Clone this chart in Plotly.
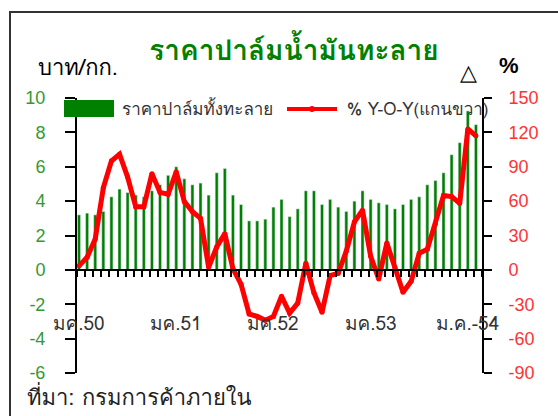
import plotly.graph_objects as go

# ราคาปาล์มทั้งทะลาย (บาท/กก.) ม.ค.50 - ก.พ.54
price = [3.2, 3.3, 3.2, 3.4, 4.25, 4.7, 4.5, 4.35, 4.25, 4.6,
         4.95, 5.5, 6.0, 5.3, 4.95, 5.05, 4.35, 5.65, 5.9, 4.35,
         3.8, 2.85, 2.85, 2.95, 3.65, 4.1, 3.1, 3.55, 4.6, 4.6,
         3.8, 4.1, 3.65, 3.4, 4.0, 4.6, 4.1, 3.9, 3.8, 3.55,
         3.8, 4.1, 4.25, 4.95, 5.2, 5.65, 6.7, 7.4, 9.25, 8.45]

# % Y-O-Y (แกนขวา)
yoy = [3.5, 11, 27, 71.6, 95, 101, 81, 55, 55, 84,
       67.6, 66, 85.6, 59.5, 50.8, 45, 2.3, 20, 31.6, 1,
       -12.5, -38.5, -40.6, -44, -40.6, -23, -37.7, -29, 5.8, -20,
       -37, -5, -3, 16.5, 42, 52, 12, -8, 23.5, 2,
       -19.5, -10, 14.5, 18, 40, 65, 64, 58, 123, 117]

months = list(range(len(price)))
year_ticks = [0, 12, 24, 36, 48]
year_labels = ["มค.50", "มค.51", "มค.52", "มค.53", "ม.ค.-54"]

left_ticks = [-6, -4, -2, 0, 2, 4, 6, 8, 10]
right_ticks = [-90, -60, -30, 0, 30, 60, 90, 120, 150]

THAI = "Tahoma, Loma, 'Noto Sans Thai', 'Liberation Sans', sans-serif"
GREEN = "#008000"
RED = "#ff0000"

# พื้นที่กราฟเป็นพิกเซล
L, R, T, B = 77, 482, 98, 373


def px(x):
    return (x - L) / (R - L)


def py(y):
    return (B - y) / (B - T)


fig = go.Figure()
fig.add_trace(go.Bar(x=months, y=price, marker_color=GREEN, width=0.38,
                     name="ราคาปาล์มทั้งทะลาย", yaxis="y"))
fig.add_trace(go.Scatter(x=months, y=yoy, mode="lines+markers", yaxis="y2",
                         line=dict(color=RED, width=5),
                         marker=dict(color=RED, size=5),
                         name="% Y-O-Y(แกนขวา)"))

fig.update_layout(
    width=558, height=416,
    margin=dict(l=L, r=558 - R, t=T, b=416 - B, autoexpand=False),
    paper_bgcolor="white", plot_bgcolor="white",
    showlegend=False,
    font=dict(family=THAI, color="#333333"),
    title=dict(text="<b>ราคาปาล์มน้ำมันทะลาย</b>", x=294 / 558, xanchor="center",
               y=1 - 50 / 416, yanchor="middle",
               font=dict(size=28, color=GREEN, family=THAI)),
    xaxis=dict(range=[-0.25, 49.75], anchor="free", position=6 / 16,
               showline=True, linecolor="black", linewidth=2,
               ticks="outside", ticklen=6, tickwidth=2, tickcolor="black",
               tickmode="linear", tick0=-0.25, dtick=1, automargin=False,
               showticklabels=False, showgrid=False, zeroline=False),
    yaxis=dict(range=[-6, 10], tickvals=left_ticks,
               ticktext=[str(v) for v in left_ticks],
               showline=True, linecolor="black", linewidth=2,
               ticks="outside", ticklen=10, tickwidth=2, tickcolor="black",
               ticklabelstandoff=16, automargin=False,
               tickfont=dict(size=18, color="#339933", family="Liberation Sans"),
               showgrid=False, zeroline=False),
    yaxis2=dict(range=[-90, 150], tickvals=right_ticks,
                ticktext=[str(v) for v in right_ticks],
                overlaying="y", side="right",
                showline=True, linecolor="black", linewidth=2,
                ticks="outside", ticklen=8, tickwidth=2, tickcolor="black",
                ticklabelstandoff=13, automargin=False,
                tickfont=dict(size=18, color="#ff3333", family="Liberation Sans"),
                showgrid=False, zeroline=False),
    yaxis3=dict(range=[-90, 150], tickvals=right_ticks, overlaying="y", side="right",
                ticks="inside", ticklen=9, tickwidth=2, tickcolor="black",
                automargin=False,
                showticklabels=False, showline=False, showgrid=False, zeroline=False),
)

# ป้ายแกน x (เดือนมกราคมของแต่ละปี)
for m, lab in zip(year_ticks, year_labels):
    fig.add_annotation(x=m, y=-3.1, xref="x", yref="y", text=lab, showarrow=False,
                       xanchor="center", yanchor="middle",
                       font=dict(size=19, color="#333333", family=THAI))


def note(x, y, text, size, color="black", anchor="left", family=THAI):
    fig.add_annotation(x=px(x), y=py(y), xref="paper", yref="paper", text=text,
                       xanchor=anchor, yanchor="middle", showarrow=False,
                       font=dict(size=size, color=color, family=family))


# คำอธิบายกราฟแบบกำหนดเอง
fig.add_shape(type="rect", xref="paper", yref="paper",
              x0=px(64), x1=px(114), y0=py(117), y1=py(100),
              fillcolor=GREEN, line_width=0)
note(120, 108, "ราคาปาล์มทั้งทะลาย", 17, "#333333")
fig.add_shape(type="line", xref="paper", yref="paper",
              x0=px(287), x1=px(337), y0=py(109), y1=py(109),
              line=dict(color=RED, width=4))
fig.add_shape(type="circle", xref="paper", yref="paper",
              x0=px(309), x1=px(315), y0=py(112), y1=py(106),
              fillcolor=RED, line_width=0)
note(345, 108, "% Y-O-Y(แกนขวา)", 17, "#333333")

# หน่วยของแกนและที่มา
note(36, 68, "บาท/กก.", 22)
note(468, 72, "△", 22, anchor="center")
note(509, 66, "<b>%</b>", 22, anchor="center", family="Liberation Sans")
note(25, 397, "ที่มา: กรมการค้าภายใน", 22, "#222222")

# กรอบรอบกราฟ
fig.add_shape(type="rect", xref="paper", yref="paper",
              x0=px(10), x1=px(570), y0=py(430), y1=py(12),
              line=dict(color="#333333", width=2), layer="above")

fig.write_html("out.html", config={"displayModeBar": False},
               post_script="document.body.style.margin = '0';")
